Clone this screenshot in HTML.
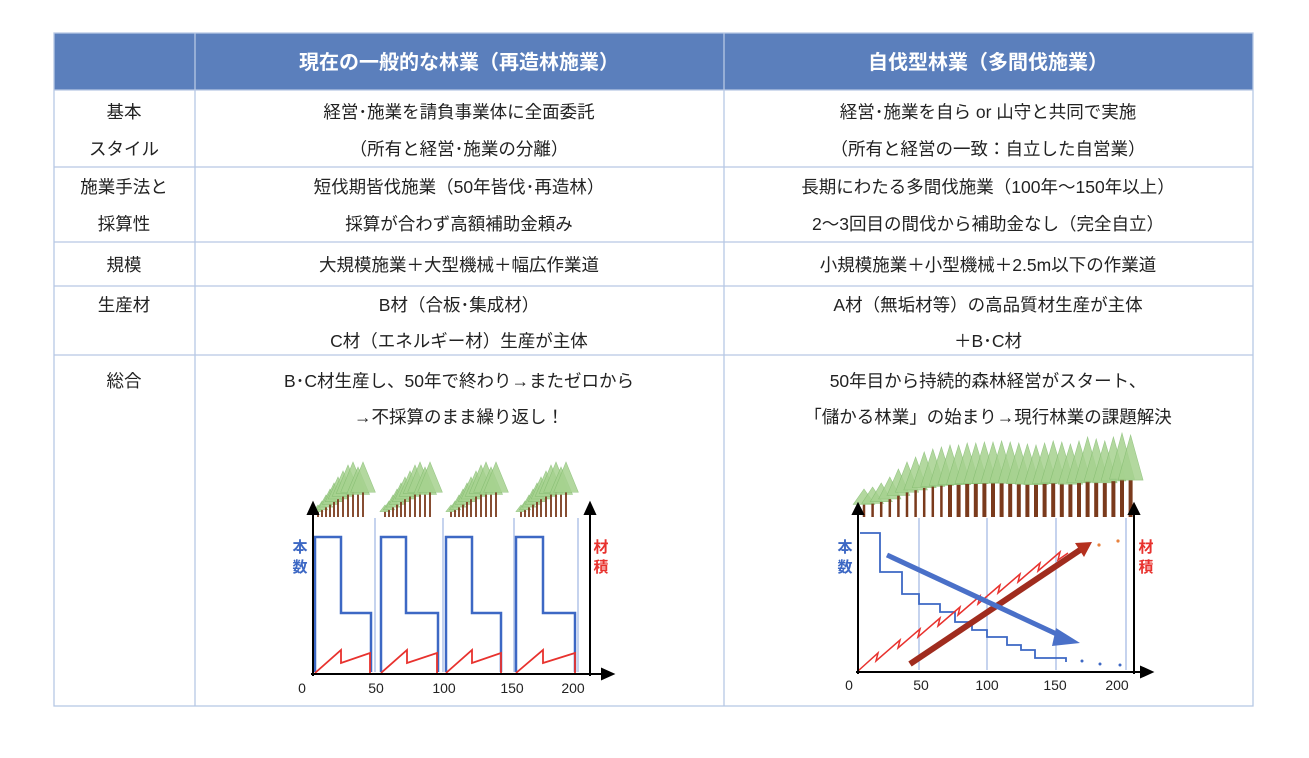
<!DOCTYPE html>
<html><head><meta charset="utf-8"><style>
html,body{margin:0;padding:0;background:#fff;}
svg{display:block;}
text{font-family:"Liberation Sans","Noto Sans CJK JP",sans-serif;}
</style></head><body>
<svg id="s" width="1309" height="758" viewBox="0 0 1309 758" xmlns="http://www.w3.org/2000/svg">
<rect x="54" y="33" width="1199" height="57" fill="#5b7fbc"/>
<g stroke="#b7c8e4" stroke-width="1.3" fill="none">
<rect x="54" y="33" width="1199" height="673"/>
<line x1="195" y1="33" x2="195" y2="706"/>
<line x1="724" y1="33" x2="724" y2="706"/>
<line x1="54" y1="90" x2="1253" y2="90"/>
<line x1="54" y1="167" x2="1253" y2="167"/>
<line x1="54" y1="242" x2="1253" y2="242"/>
<line x1="54" y1="286" x2="1253" y2="286"/>
<line x1="54" y1="355" x2="1253" y2="355"/>
</g>
<g font-size="20" fill="#fff" font-weight="bold" text-anchor="middle">
<text x="459" y="69">現在の一般的な林業（再造林施業）</text>
<text x="988" y="69">自伐型林業（多間伐施業）</text>
</g>
<g font-size="17.5" fill="#222" text-anchor="middle">
<text x="124" y="118">基本</text><text x="124" y="155">スタイル</text>
<text x="124" y="193">施業手法と</text><text x="124" y="230">採算性</text>
<text x="124" y="271">規模</text>
<text x="124" y="311">生産材</text>
<text x="124" y="387">総合</text>
<text x="459" y="118">経営･施業を請負事業体に全面委託</text>
<text x="459" y="155">（所有と経営･施業の分離）</text>
<text x="459" y="193">短伐期皆伐施業（50年皆伐･再造林）</text>
<text x="459" y="230">採算が合わず高額補助金頼み</text>
<text x="459" y="271">大規模施業＋大型機械＋幅広作業道</text>
<text x="459" y="311">B材（合板･集成材）</text>
<text x="459" y="347">C材（エネルギー材）生産が主体</text>
<text x="459" y="387">B･C材生産し、50年で終わり→またゼロから</text>
<text x="459" y="423">→不採算のまま繰り返し！</text>
<text x="988" y="118">経営･施業を自ら or 山守と共同で実施</text>
<text x="988" y="155">（所有と経営の一致：自立した自営業）</text>
<text x="988" y="193">長期にわたる多間伐施業（100年～150年以上）</text>
<text x="988" y="230">2～3回目の間伐から補助金なし（完全自立）</text>
<text x="988" y="271">小規模施業＋小型機械＋2.5m以下の作業道</text>
<text x="988" y="311">A材（無垢材等）の高品質材生産が主体</text>
<text x="988" y="347">＋B･C材</text>
<text x="988" y="387">50年目から持続的森林経営がスタート、</text>
<text x="988" y="423">「儲かる林業」の始まり→現行林業の課題解決</text>
</g>
<g id="trees"></g>
<g stroke="#9fb6e3" stroke-width="1.2">
<line x1="375" y1="518" x2="375" y2="672"/><line x1="443" y1="518" x2="443" y2="672"/>
<line x1="514" y1="518" x2="514" y2="672"/><line x1="578" y1="518" x2="578" y2="672"/>
</g>
<g fill="none" stroke="#3d68c4" stroke-width="2.5">
<polyline points="315,672 315,537 341,537 341,613 371,613 371,672"/>
<polyline points="381,672 381,537 406,537 406,613 438,613 438,672"/>
<polyline points="446,672 446,537 472,537 472,613 501,613 501,672"/>
<polyline points="516,672 516,537 543,537 543,613 575,613 575,672"/>
</g>
<g fill="none" stroke="#e8322e" stroke-width="1.8">
<polyline points="315,673 341,650 341,663 370,653 370,673"/>
<polyline points="381,673 407,650 407,663 437,653 437,673"/>
<polyline points="446,673 472,650 472,663 501,653 501,673"/>
<polyline points="516,673 543,650 543,663 575,653 575,673"/>
</g>
<g stroke="#000" stroke-width="2" fill="#000">
<line x1="313" y1="676" x2="313" y2="512"/><polygon points="308,514 318,514 313,503"/>
<line x1="311" y1="674" x2="604" y2="674"/><polygon points="602,669 602,679 613,674"/>
<line x1="590" y1="676" x2="590" y2="512"/><polygon points="585,514 595,514 590,503"/>
</g>
<g font-size="14" fill="#222" text-anchor="middle">
<text x="302" y="693">0</text><text x="376" y="693">50</text><text x="444" y="693">100</text><text x="512" y="693">150</text><text x="573" y="693">200</text>
</g>
<g font-size="15" font-weight="bold" text-anchor="middle">
<text x="300" y="552" fill="#3d68c4">本</text><text x="300" y="572" fill="#3d68c4">数</text>
<text x="601" y="552" fill="#e8322e">材</text><text x="601" y="572" fill="#e8322e">積</text>
</g>
<g stroke="#9fb6e3" stroke-width="1.2">
<line x1="919" y1="518" x2="919" y2="670"/><line x1="987" y1="518" x2="987" y2="670"/>
<line x1="1056" y1="518" x2="1056" y2="670"/><line x1="1126" y1="518" x2="1126" y2="670"/>
</g>
<polyline fill="none" stroke="#3d68c4" stroke-width="1.8" points="860,533 880,533 880,572 902,572 902,594 919,594 919,604 940,604 940,612 955,612 955,622 972,622 972,630 987,630 987,637 1007,637 1007,645 1021,645 1021,650 1035,650 1035,658 1066,658 1066,662"/>
<g fill="#3d68c4"><circle cx="1082" cy="661" r="1.5"/><circle cx="1100" cy="664" r="1.5"/><circle cx="1120" cy="665" r="1.5"/></g>
<g fill="#e8823e"><circle cx="1099" cy="545" r="1.6"/><circle cx="1118" cy="541" r="1.6"/></g>
<polyline fill="none" stroke="#e8322e" stroke-width="1.5" points="858,671 878,653 876,661 900,640 898,648 920,629 918,637 940,618 938,626 960,607 958,615 980,596 978,604 1000,585 998,593 1020,574 1018,582 1040,563 1038,571 1060,552 1058,560 1068,553"/>
<line x1="910" y1="664" x2="1080" y2="550" stroke="#a02c1e" stroke-width="6"/>
<polygon points="1075,543 1092,542 1084,557" fill="#b5301e"/>
<line x1="887" y1="555" x2="1063" y2="637" stroke="#4a70c8" stroke-width="5"/>
<polygon points="1056,628 1080,643 1052,646" fill="#4a70c8"/>
<g stroke="#000" stroke-width="2" fill="#000">
<line x1="858" y1="674" x2="858" y2="512"/><polygon points="853,514 863,514 858,504"/>
<line x1="856" y1="672" x2="1143" y2="672"/><polygon points="1141,667 1141,677 1152,672"/>
<line x1="1134" y1="674" x2="1134" y2="512"/><polygon points="1129,514 1139,514 1134,504"/>
</g>
<g font-size="14" fill="#222" text-anchor="middle">
<text x="849" y="690">0</text><text x="921" y="690">50</text><text x="987" y="690">100</text><text x="1055" y="690">150</text><text x="1117" y="690">200</text>
</g>
<g font-size="15" font-weight="bold" text-anchor="middle">
<text x="845" y="552" fill="#3d68c4">本</text><text x="845" y="572" fill="#3d68c4">数</text>
<text x="1146" y="552" fill="#e8322e">材</text><text x="1146" y="572" fill="#e8322e">積</text>
</g>
</svg>
<script>
(function(){
var g=document.getElementById('trees'),h='';
function tree(x,base,ht,w,tw,tf){
 h+='<rect x="'+(x-tw/2)+'" y="'+(base-ht*tf)+'" width="'+tw+'" height="'+(ht*tf)+'" fill="#7a3a1c"/>';
 h+='<polygon points="'+(x-w)+','+(base-ht*tf)+' '+(x+w)+','+(base-ht*tf)+' '+x+','+(base-ht)+'" fill="#a6d28f" stroke="#86bd72" stroke-width="0.6" opacity="0.85"/>';
}
var starts=[318,385,451,521];
starts.forEach(function(s){
 var d=[[0,12],[4,16],[8,22],[12,28],[16,34],[20,40],[25,46],[30,52],[35,55],[40,50],[45,55]];
 d.forEach(function(t){tree(s+t[0],517,t[1],3+t[1]*0.17,1.8,0.45);});
});
var hs=[28,30,34,40,48,55,60,65,68,70,72,72,74,74,75,75,76,75,74,73,72,74,76,75,73,76,80,78,76,80,84,82];
for(var i=0;i<hs.length;i++){var x=864+i*8.6;tree(x,517,hs[i],10+hs[i]*0.03,hs[i]>70?4:2.5,0.45);}
g.innerHTML=h;
})();
</script>
</body></html>
